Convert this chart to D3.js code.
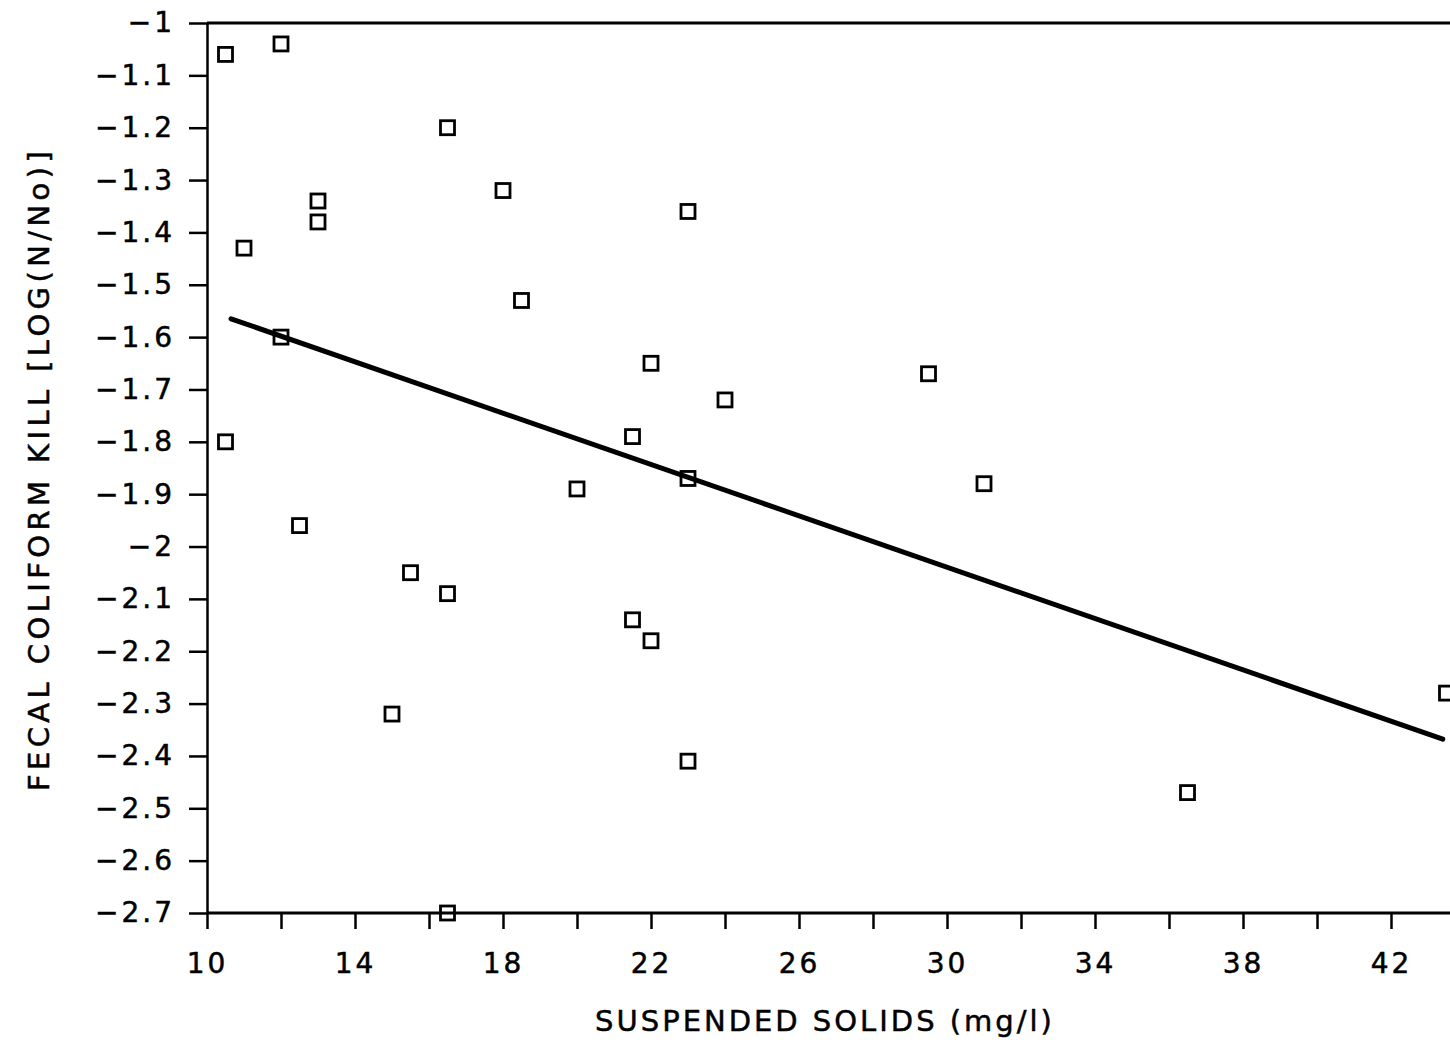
<!DOCTYPE html>
<html>
<head>
<meta charset="utf-8">
<script src="https://cdn.jsdelivr.net/npm/d3@7"></script>
<style>
  body { margin: 0; background: #fff; }
  .axis path, .axis line { stroke: #000; stroke-width: 2.5px; }
  .axis text { font-family: "DejaVu Sans", sans-serif; font-size: 28px; fill: #000;
               stroke: #000; stroke-width: 0.5px; letter-spacing: 3px; }
  .title { font-family: "DejaVu Sans", sans-serif; font-size: 29px; fill: #000;
           stroke: #000; stroke-width: 0.5px; }
</style>
</head>
<body>
<div id="chart"></div>
<script>
var w = 1450;
var h = 1043;

// suspended solids (mg/l)
var solids = [10.5, 12, 16.5, 18, 13, 13, 11, 23, 18.5, 12, 22, 29.5, 24, 10.5,
              21.5, 20, 23, 31, 12.5, 15.5, 16.5, 21.5, 22, 15, 23, 36.5, 43.5, 16.5];
// fecal coliform kill log(N/No)
var kill = [-1.06, -1.04, -1.2, -1.32, -1.34, -1.38, -1.43, -1.36, -1.53, -1.60, -1.65, -1.67, -1.72, -1.80,
            -1.79, -1.89, -1.87, -1.88, -1.96, -2.05, -2.09, -2.14, -2.18, -2.32, -2.41, -2.47, -2.28, -2.70];

// regression line end points
var fitX = [10.65, 43.4];
var fitY = [-1.565, -2.368];

var xTicks = [10, 12, 14, 16, 18, 20, 22, 24, 26, 28, 30, 32, 34, 36, 38, 40, 42];
var xLabels = [10, 14, 18, 22, 26, 30, 34, 38, 42];
var yTicks = [-1, -1.1, -1.2, -1.3, -1.4, -1.5, -1.6, -1.7, -1.8, -1.9, -2, -2.1, -2.2, -2.3, -2.4, -2.5, -2.6, -2.7];

var dataset = solids.map(function(s, i) { return { x: s, y: kill[i] }; });

var xScale = d3.scaleLinear().domain([10, 42]).range([207, 1391]);
var yScale = d3.scaleLinear().domain([-1, -2.7]).range([23, 913]);

var svg = d3.select("#chart")
            .append("svg")
            .attr("width", w)
            .attr("height", h)
            .style("background", "#fff");

//X axis
var xAxis = d3.axisBottom(xScale)
              .tickValues(xTicks)
              .tickSize(16)
              .tickSizeOuter(0)
              .tickPadding(24)
              .tickFormat(function(d) { return xLabels.indexOf(d) >= 0 ? d : ""; });

svg.append("g")
   .attr("class", "axis")
   .attr("transform", "translate(0," + yScale(-2.7) + ")")
   .call(xAxis)
   .select(".domain").remove();

//Y axis
var yAxis = d3.axisLeft(yScale)
              .tickValues(yTicks)
              .tickSize(18)
              .tickSizeOuter(0)
              .tickPadding(14)
              .tickFormat(d3.format("~g"));

svg.append("g")
   .attr("class", "axis")
   .attr("transform", "translate(" + xScale(10) + ",0)")
   .call(yAxis);

//frame lines across the top and bottom
svg.append("line")
   .attr("x1", xScale(10)).attr("x2", w)
   .attr("y1", yScale(-1)).attr("y2", yScale(-1))
   .attr("stroke", "#000").attr("stroke-width", 3);
svg.append("line")
   .attr("x1", xScale(10)).attr("x2", w)
   .attr("y1", yScale(-2.7)).attr("y2", yScale(-2.7))
   .attr("stroke", "#000").attr("stroke-width", 3);

//fit line
svg.append("line")
   .attr("x1", xScale(fitX[0])).attr("y1", yScale(fitY[0]))
   .attr("x2", xScale(fitX[1])).attr("y2", yScale(fitY[1]))
   .attr("stroke", "#000")
   .attr("stroke-width", 5)
   .attr("stroke-linecap", "round");

//points
var s = 14;
svg.selectAll("rect.pt")
   .data(dataset)
   .enter()
   .append("rect")
   .attr("class", "pt")
   .attr("x", function(d) { return xScale(d.x) - s / 2; })
   .attr("y", function(d) { return yScale(d.y) - s / 2; })
   .attr("width", s)
   .attr("height", s)
   .attr("fill", "none")
   .attr("stroke", "#000")
   .attr("stroke-width", 2.8);

//axis titles
svg.append("text")
   .attr("class", "title")
   .text("SUSPENDED SOLIDS (mg/l)")
   .attr("x", 825)
   .attr("y", 1031)
   .attr("text-anchor", "middle")
   .attr("letter-spacing", "3px");

svg.append("text")
   .attr("class", "title")
   .text("FECAL COLIFORM KILL [LOG(N/No)]")
   .attr("transform", "translate(49,469) rotate(-90)")
   .attr("text-anchor", "middle")
   .attr("letter-spacing", "4.4px");
</script>
</body>
</html>
